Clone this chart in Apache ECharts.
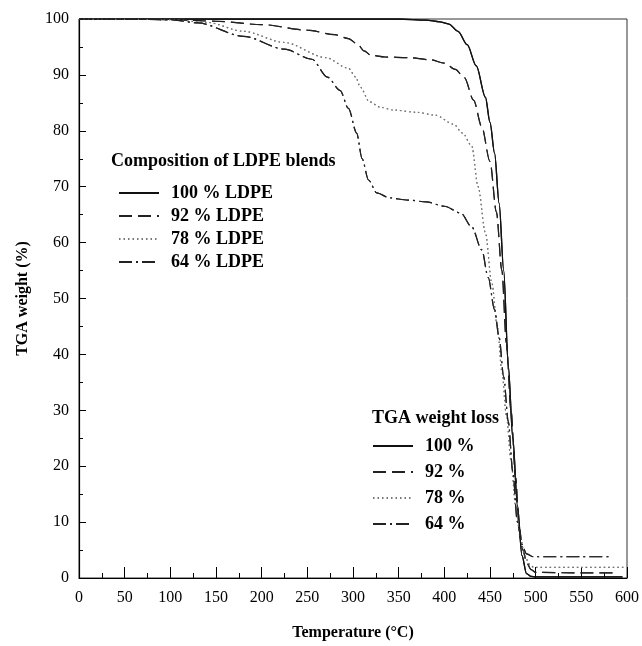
<!DOCTYPE html>
<html>
<head>
<meta charset="utf-8">
<script src="https://cdn.jsdelivr.net/npm/echarts@6/dist/echarts.min.js"></script>
<style>
  html, body { margin: 0; padding: 0; background: #fff; }
  #chart { width: 642px; height: 646px; }
</style>
</head>
<body>
<div id="chart"></div>
<script>
// temperature (°C) / TGA weight (%)
const t100 = [0, 100, 200, 300, 350, 380, 395, 405, 415, 425, 435, 445, 450, 455, 460, 465, 470, 475, 480, 485, 490, 495, 500, 550, 595];
const w100 = [100, 100, 100, 100, 100, 99.8, 99.5, 99.1, 97.8, 95.4, 91.6, 86, 81.5, 76, 67, 55, 38, 25, 13, 4, 0.8, 0.3, 0.2, 0.2, 0.2];

const t92 = [0, 100, 150, 200, 250, 280, 295, 305, 312, 320, 335, 360, 385, 400, 412, 422, 432, 441, 450, 457, 463, 468, 473, 478, 482, 486, 490, 495, 500, 550, 590];
const w92 = [100, 99.9, 99.6, 99.0, 98.0, 97.2, 96.5, 95.5, 94.3, 93.5, 93.2, 93.1, 92.7, 92.1, 91.0, 89.5, 85.5, 80.7, 74.5, 65.5, 55, 42, 30, 18, 9, 5, 2.8, 1.5, 1.0, 0.9, 0.9];

const t78 = [0, 100, 140, 180, 225, 270, 295, 303, 308, 318, 330, 345, 370, 390, 410, 420, 430, 437, 445, 452, 458, 463, 468, 473, 478, 483, 488, 493, 498, 550, 598];
const w78 = [100, 99.9, 99.4, 97.8, 95.8, 93.1, 91.2, 89.6, 87.8, 85.2, 84.2, 83.7, 83.3, 82.8, 81.2, 79.6, 77.3, 70, 61.7, 52.8, 45, 37, 29, 21, 13, 7.5, 4, 2.5, 1.9, 1.9, 1.9];

const t64 = [0, 100, 130, 180, 225, 255, 272, 286, 295, 304, 310, 317, 326, 340, 360, 380, 400, 418, 430, 441, 448, 455, 460, 465, 470, 475, 480, 485, 490, 497, 550, 580];
const w64 = [100, 99.9, 99.3, 96.9, 94.6, 92.8, 89.6, 87.2, 84.0, 79.6, 75.0, 71.2, 68.9, 68.0, 67.6, 67.3, 66.5, 65.3, 62.8, 58.7, 53.8, 48, 43, 36, 28, 19, 10, 6, 4.3, 3.8, 3.8, 3.8];

const blendNames = ['100 % LDPE', '92 % LDPE', '78 % LDPE', '64 % LDPE'];
const lossNames = ['100 %', '92 %', '78 %', '64 %'];

const curves = [[t100, w100], [t92, w92], [t78, w78], [t64, w64]];
const styles = [
  { color: '#111', width: 1.3, type: 'solid' },
  { color: '#222', width: 1.2, type: [13, 6] },
  { color: '#777', width: 1.2, type: [1.5, 3] },
  { color: '#222', width: 1.2, type: [13, 4, 2, 4] }
];

const serif = 'Liberation Serif, Times New Roman, serif';

const makeSeries = (name, i) => ({
  name: name,
  type: 'line',
  symbol: 'none',
  showSymbol: false,
  smooth: 0.3,
  smoothMonotone: 'x',
  data: curves[i][0].map((t, k) => [t, curves[i][1][k]]),
  lineStyle: { color: styles[i].color, width: styles[i].width, type: styles[i].type },
  itemStyle: { color: styles[i].color },
  emphasis: { disabled: true }
});

const legendText = { fontFamily: serif, fontSize: 18, fontWeight: 'bold', color: '#000', padding: [0, 0, 0, 7] };

const chart = echarts.init(document.getElementById('chart'));

const option = {
  animation: false,
  backgroundColor: '#fff',
  textStyle: { fontFamily: serif, color: '#000' },
  grid: {
    left: 79, right: 13, top: 19, bottom: 68,
    show: true, borderColor: '#333', borderWidth: 1
  },
  title: [
    {
      text: 'Composition of LDPE blends', left: 111, top: 152, padding: 0,
      textStyle: { fontFamily: serif, fontSize: 18, fontWeight: 'bold', color: '#000' }
    },
    {
      text: 'TGA weight loss', left: 372, top: 409, padding: 0,
      textStyle: { fontFamily: serif, fontSize: 18, fontWeight: 'bold', color: '#000' }
    }
  ],
  legend: [
    {
      data: blendNames, orient: 'vertical', left: 118, top: 184, padding: 0,
      itemWidth: 40, itemHeight: 14, itemGap: 5, selectedMode: false,
      itemStyle: { opacity: 0 },
      textStyle: legendText
    },
    {
      data: lossNames, orient: 'vertical', left: 372, top: 437, padding: 0,
      itemWidth: 40, itemHeight: 14, itemGap: 8, selectedMode: false,
      itemStyle: { opacity: 0 },
      textStyle: legendText
    }
  ],
  xAxis: {
    type: 'value', min: 0, max: 600, interval: 50,
    name: 'Temperature (°C)', nameLocation: 'middle', nameGap: 47,
    nameTextStyle: { fontFamily: serif, fontSize: 16, fontWeight: 'bold', color: '#000' },
    axisLine: { lineStyle: { color: '#000', width: 1.2 } },
    axisTick: { inside: true, length: 11, lineStyle: { color: '#000' } },
    minorTick: { show: true, splitNumber: 2, length: 5, lineStyle: { color: '#000' } },
    axisLabel: { fontFamily: serif, fontSize: 16, color: '#000', margin: 12 },
    splitLine: { show: false }
  },
  yAxis: {
    type: 'value', min: 0, max: 100, interval: 10,
    name: 'TGA weight (%)', nameLocation: 'middle', nameGap: 48,
    nameTextStyle: { fontFamily: serif, fontSize: 16, fontWeight: 'bold', color: '#000' },
    axisLine: { lineStyle: { color: '#000', width: 1.2 } },
    axisTick: { inside: true, length: 7, lineStyle: { color: '#000' } },
    minorTick: { show: true, splitNumber: 2, length: 4, lineStyle: { color: '#000' } },
    axisLabel: { fontFamily: serif, fontSize: 16, color: '#000', margin: 10 },
    splitLine: { show: false }
  },
  series: blendNames.map(makeSeries).concat(lossNames.map(makeSeries))
};

chart.setOption(option);
</script>
</body>
</html>
